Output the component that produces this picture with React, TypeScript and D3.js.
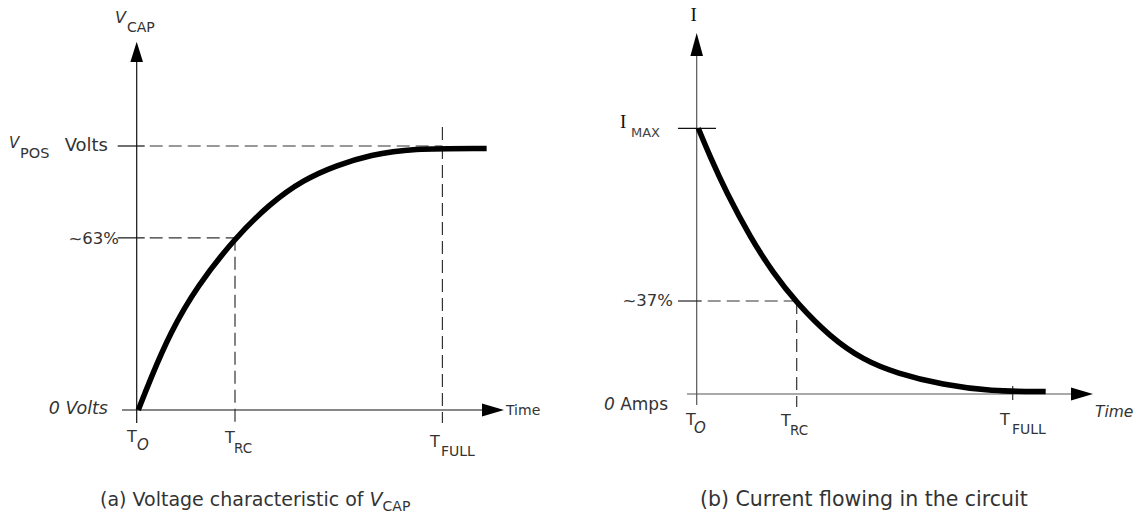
import React from "react";
import * as d3 from "d3";

// ---- data (time in units of RC, values as fraction of max) ----
const voltageT = [0.016, 0.136, 0.34, 0.61, 1.0, 1.36, 1.69, 2.04, 2.38, 2.78, 3.56];
const voltageV = [0, 0.114, 0.292, 0.467, 0.652, 0.783, 0.871, 0.928, 0.966, 0.991, 0.991];
const currentT = [0.016, 0.133, 0.3, 0.533, 0.766, 1.0, 1.333, 1.666, 2.0, 2.466, 2.933, 3.49];
const currentI = [1.0, 0.894, 0.756, 0.592, 0.454, 0.343, 0.215, 0.128, 0.078, 0.034, 0.011, 0.009];

const leftMarksY = [1, 0.652]; // V_POS, ~63%
const leftMarksT = [1, 3.11]; // T_RC, T_FULL
const rightMarksY = [1, 0.35]; // I_MAX, ~37%
const rightMarksT = [1, 3.16]; // T_RC, T_FULL

const FONT = "'DejaVu Sans', 'Open Sans', sans-serif";
const TXT = "#333";

export default function App() {
  const xL = d3.scaleLinear().domain([0, 1]).range([136.7, 235]);
  const yL = d3.scaleLinear().domain([0, 1]).range([410, 146]);
  const xR = d3.scaleLinear().domain([0, 1]).range([696.7, 796.7]);
  const yR = d3.scaleLinear().domain([0, 1]).range([394, 128.3]);

  const lineL = d3
    .line<number>()
    .x((_, i) => xL(voltageT[i]))
    .y((d) => yL(d))
    .curve(d3.curveBasis);
  const lineR = d3
    .line<number>()
    .x((_, i) => xR(currentT[i]))
    .y((d) => yR(d))
    .curve(d3.curveBasis);

  const dash = "13,6";

  const lx0 = xL(0);
  const ly0 = yL(0);
  const rx0 = xR(0);
  const ry0 = yR(0);

  return (
    <svg
      width={1137}
      height={522}
      style={{ position: "absolute", left: 0, top: 0, background: "#fff" }}
      fontFamily={FONT}
    >
      {/* ================= LEFT PANEL ================= */}
      <g>
        <line x1={lx0} x2={lx0} y1={60} y2={423} stroke="#111" strokeWidth={1.2} />
        <path d={`M${lx0},41.7 L${lx0 - 6.3},62 L${lx0 + 6.3},62 Z`} fill="#000" />
        <line x1={122} x2={484} y1={ly0} y2={ly0} stroke="#111" strokeWidth={1.2} />
        <path d={`M504,${ly0} L482,${ly0 - 6.5} L482,${ly0 + 6.5} Z`} fill="#000" />
        <text x={506} y={ly0 + 5} fontSize={14} fill={TXT}>Time</text>

        {leftMarksY.map((v, i) => (
          <g key={"ly" + i}>
            <line x1={lx0 - 19} x2={lx0 + 8} y1={yL(v)} y2={yL(v)} stroke="#111" strokeWidth={1.2} />
            <line
              x1={lx0 + 13}
              x2={i === 0 ? xL(leftMarksT[1]) : xL(leftMarksT[0])}
              y1={yL(v)}
              y2={yL(v)}
              stroke="#333"
              strokeWidth={1.2}
              strokeDasharray={dash}
            />
          </g>
        ))}
        <line x1={xL(leftMarksT[0])} x2={xL(leftMarksT[0])} y1={yL(leftMarksY[1])} y2={423} stroke="#333" strokeWidth={1.2} strokeDasharray={dash} />
        <line x1={xL(leftMarksT[1])} x2={xL(leftMarksT[1])} y1={127} y2={423} stroke="#333" strokeWidth={1.2} strokeDasharray={dash} />

        <path d={lineL(voltageV) || ""} fill="none" stroke="#000" strokeWidth={5.5} strokeLinecap="butt" />

        {/* labels */}
        <text x={115} y={23} fontSize={16} fill={TXT} fontStyle="italic">V</text>
        <text x={127} y={32} fontSize={14} fill={TXT}>CAP</text>

        <text x={9} y={148} fontSize={15} fill={TXT} fontStyle="italic">V</text>
        <text x={20} y={158} fontSize={14.5} fill={TXT}>POS</text>
        <text x={108} y={151} fontSize={18} fill={TXT} textAnchor="end">Volts</text>

        <text x={119} y={244} fontSize={16.5} fill={TXT} textAnchor="end">~63%</text>
        <text x={108} y={414} fontSize={17.5} fill={TXT} textAnchor="end" fontStyle="italic">0 Volts</text>

        <text x={127} y={442} fontSize={16} fill={TXT}>T</text>
        <text x={137} y={450} fontSize={15} fill={TXT} fontStyle="italic">O</text>
        <text x={225} y={443} fontSize={16} fill={TXT}>T</text>
        <text x={234} y={453} fontSize={13.5} fill={TXT}>RC</text>
        <text x={430} y={447} fontSize={16} fill={TXT}>T</text>
        <text x={441} y={456} fontSize={14} fill={TXT}>FULL</text>

        <text x={100} y={506} fontSize={19} fill={TXT}>
          (a) Voltage characteristic of <tspan fontStyle="italic">V</tspan>
          <tspan fontSize={14} dy={5}>CAP</tspan>
        </text>
      </g>

      {/* ================= RIGHT PANEL ================= */}
      <g>
        <line x1={rx0} x2={rx0} y1={54} y2={405} stroke="#555" strokeWidth={1.2} />
        <path d={`M${rx0},33 L${rx0 - 6.3},56 L${rx0 + 6.3},56 Z`} fill="#000" />
        <line x1={687} x2={1074} y1={ry0} y2={ry0} stroke="#555" strokeWidth={1.2} />
        <path d={`M1093,${ry0} L1071,${ry0 - 6.5} L1071,${ry0 + 6.5} Z`} fill="#000" />
        <text x={1095} y={417} fontSize={15.5} fill={TXT} fontStyle="italic">Time</text>

        <line x1={678} x2={716} y1={yR(rightMarksY[0])} y2={yR(rightMarksY[0])} stroke="#111" strokeWidth={1.2} />
        <line x1={678} x2={rx0 + 5} y1={yR(rightMarksY[1])} y2={yR(rightMarksY[1])} stroke="#222" strokeWidth={1.2} />
        <line x1={rx0 + 11} x2={xR(rightMarksT[0])} y1={yR(rightMarksY[1])} y2={yR(rightMarksY[1])} stroke="#333" strokeWidth={1.2} strokeDasharray={dash} />
        <line x1={xR(rightMarksT[0])} x2={xR(rightMarksT[0])} y1={yR(rightMarksY[1])} y2={407} stroke="#333" strokeWidth={1.2} strokeDasharray={dash} />
        <line x1={xR(rightMarksT[1])} x2={xR(rightMarksT[1])} y1={386} y2={400} stroke="#333" strokeWidth={1.2} />

        <path d={lineR(currentI) || ""} fill="none" stroke="#000" strokeWidth={5.5} strokeLinecap="butt" />

        <text x={690.5} y={21} fontSize={19} fill="#111" fontFamily="'Liberation Serif', serif">I</text>
        <text x={620} y={128} fontSize={19} fill="#111" fontFamily="'Liberation Serif', serif">I</text>
        <text x={631} y={137} fontSize={13} fill="#444">MAX</text>

        <text x={673} y={306} fontSize={16.5} fill={TXT} textAnchor="end">~37%</text>
        <text x={668} y={410} fontSize={17} fill={TXT} textAnchor="end">
          <tspan fontStyle="italic">0</tspan> Amps
        </text>

        <text x={686} y={425} fontSize={16} fill={TXT}>T</text>
        <text x={694} y={433} fontSize={15} fill={TXT} fontStyle="italic">O</text>
        <text x={781} y={426} fontSize={16} fill={TXT}>T</text>
        <text x={790} y={435} fontSize={13.5} fill={TXT}>RC</text>
        <text x={1000} y={425} fontSize={16} fill={TXT}>T</text>
        <text x={1012} y={434} fontSize={14} fill={TXT}>FULL</text>

        <text x={700} y={506} fontSize={20.5} fill={TXT}>
          (b) Current flowing in the circuit
        </text>
      </g>
    </svg>
  );
}
